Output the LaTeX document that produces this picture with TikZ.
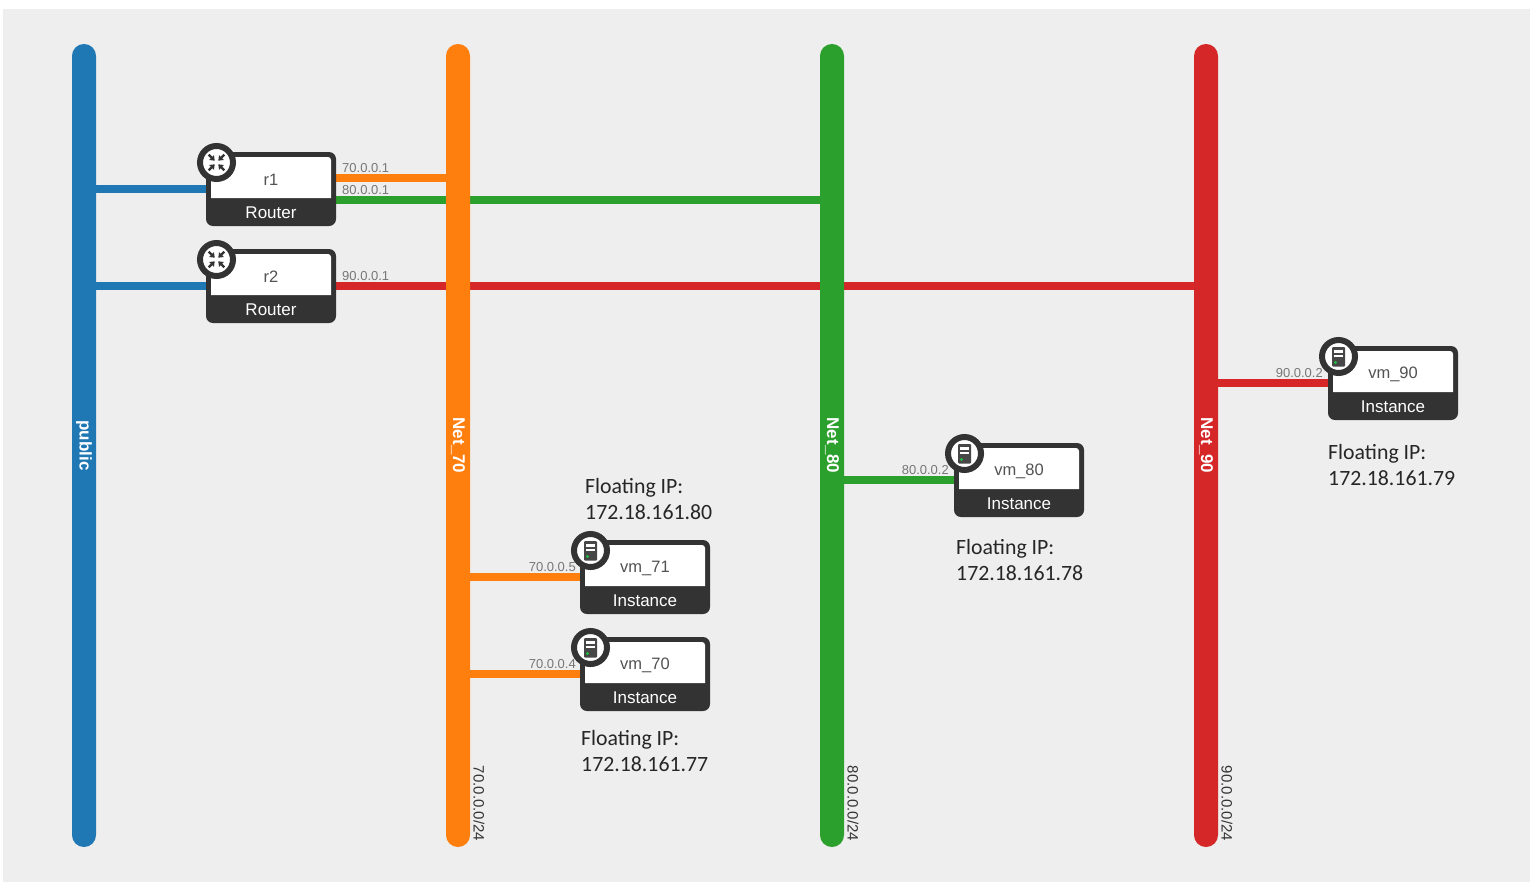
\documentclass[tikz,border=0pt]{standalone}
\usepackage{fontspec}
\setmainfont{Liberation Sans}
\newfontfamily\floatfont{Carlito}
\usetikzlibrary{arrows.meta, positioning, calc, backgrounds}
\definecolor{cpanel}{HTML}{EEEEEE}
\definecolor{cdark}{HTML}{333333}
\definecolor{cgrey}{HTML}{777777}
\definecolor{cblue}{HTML}{1F77B4}
\definecolor{corange}{HTML}{FF7F0E}
\definecolor{cgreen}{HTML}{2CA02C}
\definecolor{cred}{HTML}{D62728}
\definecolor{cled}{HTML}{22C040}
\tikzset{
  net/.style={fill=#1, rounded corners=11.9pt, rotate=-90, minimum width=803pt, minimum height=24pt, inner sep=0pt, text=white, font=\bfseries\fontsize{17}{17}\selectfont},
  link/.style={draw=#1, line width=8pt},
  devbox/.style={fill=cdark, rounded corners=7pt, minimum width=130pt, minimum height=74pt, inner sep=0pt},
  badge/.style={circle, draw=cdark, fill=white, line width=6pt, minimum size=33pt, inner sep=0pt},
  devname/.style={text=cdark!85, font=\fontsize{16.5}{16.5}\selectfont},
  devtype/.style={text=white, font=\fontsize{17}{17}\selectfont},
  ipaddr/.style={text=cgrey, font=\fontsize{13}{13}\selectfont, inner sep=0pt},
  cidr/.style={rotate=-90, text=cdark, font=\fontsize{15}{15}\selectfont, inner sep=0pt},
  floating/.style={align=left, anchor=north west, inner sep=0pt, text=black!85, font=\floatfont\fontsize{21.8}{26}\selectfont},
}
\begin{document}
\begin{tikzpicture}[x=1pt, y=-1pt]
  \useasboundingbox (0,0) rectangle (1538,884);
  % networks
  \foreach \n/\x/\c/\t in {public/84/cblue/public, net70/458/corange/Net\_70, net80/832/cgreen/Net\_80, net90/1206/cred/Net\_90} {
    \node[net=\c] (\n) at (\x, 445.5) {\t};
  }
  \node[cidr] (cidr70) at (479, 803.5) {70.0.0.0/24};
  \node[cidr] (cidr80) at (853, 803.5) {80.0.0.0/24};
  \node[cidr] (cidr90) at (1227, 803.5) {90.0.0.0/24};
  % routers and instances
  \foreach \n/\x/\y/\l/\t in {r1/271/189/r1/Router, r2/271/286/r2/Router, vm71/645/577/vm\_71/Instance, vm70/645/674/vm\_70/Instance, vm80/1019/480/vm\_80/Instance, vm90/1393/383/vm\_90/Instance} {
    \node[devbox] (\n) at (\x, \y) {};
    \fill[white] (\x-60, \y+9) [rounded corners=3pt] -- (\x-60, \y-32) -- (\x+60, \y-32) [sharp corners] -- (\x+60, \y+9) -- cycle;
    \node[devname] (\n name) at (\x, \y-9) {\l};
    \node[devtype] (\n type) at (\x, \y+24) {\t};
    \node[badge] (\n badge) at (\x-54.5, \y-26.5) {};
  }
  % router icons
  \foreach \n in {r1, r2} {
    \foreach \a in {45, 135, 225, 315} {
      \draw[cdark, line width=2.2pt, {Triangle[length=4.5pt, width=6.5pt]}-] ($(\n badge)+(\a:2.5pt)$) -- ($(\n badge)+(\a:11pt)$);
    }
  }
  % instance icons
  \foreach \n in {vm71, vm70, vm80, vm90} {
    \fill[cdark!90, rounded corners=1pt] ($(\n badge)+(-6.5,-9.5)$) rectangle ($(\n badge)+(6.5,10)$);
    \fill[white] ($(\n badge)+(-4.5,-6.5)$) rectangle ($(\n badge)+(4.5,-4)$);
    \fill[white] ($(\n badge)+(-4.5,-2)$) rectangle ($(\n badge)+(4.5,0.5)$);
    \fill[cled] ($(\n badge)+(-3,6)$) circle (1.6pt);
  }
  % connectors
  \begin{scope}[on background layer]
    \fill[cpanel] (3,9) rectangle (1530,882);
    \draw[link=cblue] (r1.center) -- (public.center |- r1.center);
    \draw[link=cblue] (r2.center) -- (public.center |- r2.center);
    \coordinate (r1top) at ($(r1.center)+(0,-11)$);
    \coordinate (r1low) at ($(r1.center)+(0,11)$);
    \draw[link=corange] (r1top) -- (net70.center |- r1top);
    \draw[link=cgreen] (r1low) -- (net80.center |- r1low);
    \draw[link=cred] (r2.center) -- (net90.center |- r2.center);
    \draw[link=corange] (vm71.center) -- (net70.center |- vm71.center);
    \draw[link=corange] (vm70.center) -- (net70.center |- vm70.center);
    \draw[link=cgreen] (vm80.center) -- (net80.center |- vm80.center);
    \draw[link=cred] (vm90.center) -- (net90.center |- vm90.center);
  \end{scope}
  % addresses
  \node[ipaddr, anchor=west] (ip1) at (342, 168) {70.0.0.1};
  \node[ipaddr, anchor=west] (ip2) at (342, 190) {80.0.0.1};
  \node[ipaddr, anchor=west] (ip3) at (342, 276) {90.0.0.1};
  \node[ipaddr, anchor=east] (ip4) at (576, 567) {70.0.0.5};
  \node[ipaddr, anchor=east] (ip5) at (576, 664) {70.0.0.4};
  \node[ipaddr, anchor=east] (ip6) at (949, 470) {80.0.0.2};
  \node[ipaddr, anchor=east] (ip7) at (1323, 373) {90.0.0.2};
  % floating addresses
  \node[floating] (fip71) at (585, 478) {Floating IP:\\172.18.161.80};
  \node[floating] (fip70) at (581, 730) {Floating IP:\\172.18.161.77};
  \node[floating] (fip80) at (956, 539) {Floating IP:\\172.18.161.78};
  \node[floating] (fip90) at (1328, 444) {Floating IP:\\172.18.161.79};
\end{tikzpicture}
\end{document}
